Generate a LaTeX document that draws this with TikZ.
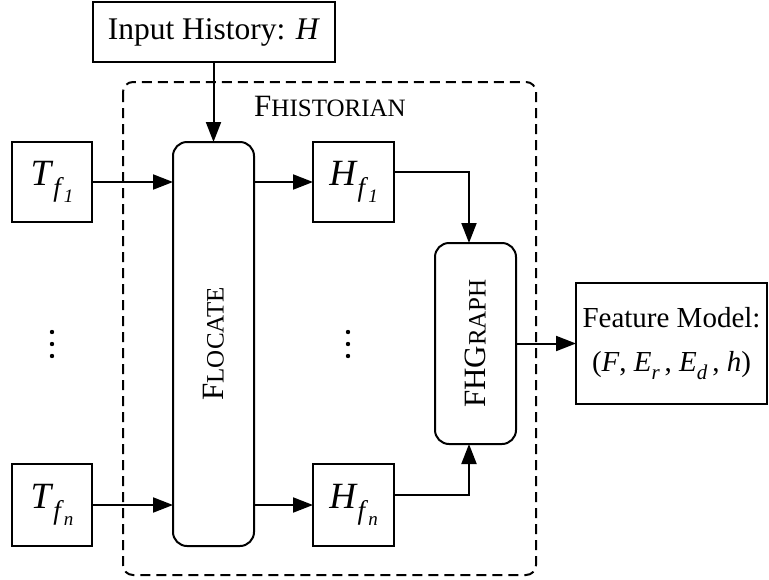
\documentclass[tikz,border=0pt]{standalone}
\usepackage{fontspec}
\setmainfont{Liberation Serif}
\usetikzlibrary{arrows.meta}

% fake small capitals (the font has none)
\newcommand\smc[1]{{\fontsize{25}{30}\selectfont #1}}
\newcommand\iv[1]{\textit{#1}}
% italic symbol with a two-level subscript
\newcommand\twosub[3]{\iv{#1}\raisebox{-0.3em}{\fontsize{27}{27}\selectfont\iv{#2}\raisebox{-0.2em}{\fontsize{19}{19}\selectfont\iv{#3}}}}
% italic symbol with a one-level subscript
\newcommand\onesub[2]{\iv{#1}\raisebox{-0.25em}{\fontsize{21}{21}\selectfont\iv{#2}}}

\begin{document}
\begin{tikzpicture}[x=1pt,y=-1pt,
  every node/.style={inner sep=0pt,outer sep=0pt},
  box/.style={draw,line width=2pt,minimum width=#1},
  sym/.style={box=80pt,minimum height=80pt,font=\fontsize{37}{42}\selectfont},
  proc/.style={draw,line width=2pt,rounded corners=14pt,minimum width=81pt},
  vlabel/.style={rotate=90,font=\fontsize{31}{36}\selectfont},
  arr/.style={line width=2pt,-{Triangle[length=20pt,width=15pt]}}]
\useasboundingbox (0,0) rectangle (769,579);

% surrounding FHistorian frame
\draw[line width=2pt,dash pattern=on 10pt off 6pt,rounded corners=10pt]
  (123,82) rectangle (536,575);
\node[font=\fontsize{31}{36}\selectfont] (hist) at (330,106) {F\smc{HISTORIAN}};

% input and output boxes
\node[box=242pt,minimum height=60pt,font=\fontsize{31.5}{36}\selectfont]
  (inp) at (214,32) {Input History: \iv{H}};
\node[box=191pt,minimum height=121pt,align=center,font=\fontsize{29}{44}\selectfont]
  (fm) at (671.5,343.5) {Feature Model:\\ (\iv{F}, \onesub{E}{r}\,, \onesub{E}{d}\,, \iv{h})};

% feature traces and histories
\node[sym] (t1) at (52,182) {\twosub{T}{f}{1}};
\node[sym,minimum height=82pt] (tn) at (52,505) {\twosub{T}{f}{n}};
\node[sym,minimum width=81pt] (h1) at (353.5,182) {\twosub{H}{f}{1}};
\node[sym,minimum width=81pt,minimum height=82pt] (hn) at (353.5,505) {\twosub{H}{f}{n}};

% processing stages
\node[proc,minimum height=404pt] (loc) at (213.5,344) {};
\node[vlabel] (locl) at (loc) {F\smc{LOCATE}};
\node[proc,minimum height=201pt] (gr) at (475.5,343.5) {};
\node[vlabel] (grl) at (gr) {FHG\smc{RAPH}};

% vertical ellipses
\foreach \x in {52,348}
  \foreach \y in {332,344,356}
    \fill (\x,\y) circle (2.2pt);

% connectors
\draw[arr] (inp.south -| loc.north) -- (loc.north);
\draw[arr] (t1.east) -- (t1 -| loc.west);
\draw[arr] (tn.east) -- (tn -| loc.west);
\draw[arr] (loc.east |- h1) -- (h1.west);
\draw[arr] (loc.east |- hn) -- (hn.west);
\draw[arr] ([yshift=10pt]h1.east) -| ([xshift=-6.5pt]gr.north);
\draw[arr] ([yshift=10pt]hn.east) -| ([xshift=-6.5pt]gr.south);
\draw[arr] (gr.east) -- (fm.west);
\end{tikzpicture}
\end{document}
